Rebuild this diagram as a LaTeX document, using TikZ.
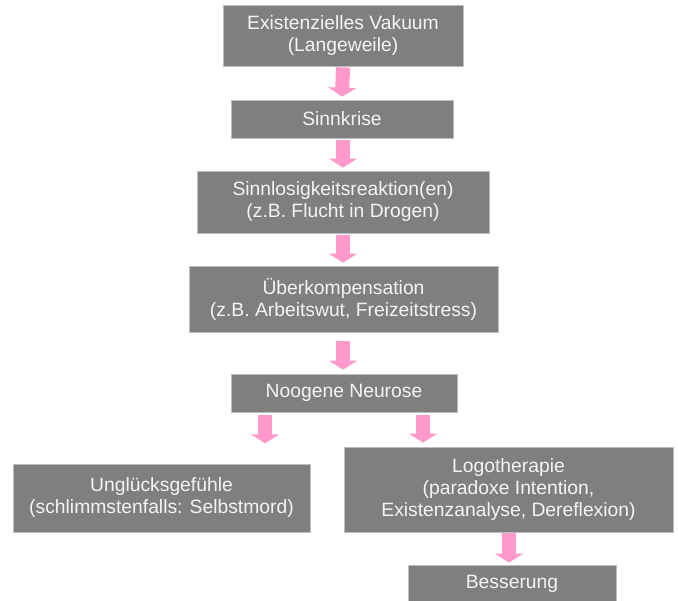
\documentclass[tikz,border=0pt]{standalone}
\usepackage{fontspec}
\setmainfont{Liberation Sans}
\usetikzlibrary{arrows.meta,calc}
\definecolor{boxgray}{HTML}{7F7F7F}
\definecolor{boxedge}{HTML}{BDBDBD}
\definecolor{txt}{HTML}{F4F4F4}
\definecolor{pinkarrow}{HTML}{FF99CC}
\begin{document}
\begin{tikzpicture}[x=1pt,y=-1pt,
  box/.style={rectangle, fill=boxgray, draw=boxedge, line width=0.7pt, inner sep=0pt,
    text=txt, align=center, font=\fontsize{19.3}{22}\selectfont},
  parrow/.style={draw=pinkarrow, line width=14pt, -{Triangle[width=28pt,length=9pt,fill=pinkarrow]}}
]
\useasboundingbox (0,0) rectangle (678,601);
\clip (0,0) rectangle (678,601);
\fill[white] (0,0) rectangle (678,601);

\node[box, minimum width=240pt, minimum height=61pt] (n1) at (343,35.5) {Existenzielles Vakuum\\(Langeweile)};
\node[box, minimum width=222pt, minimum height=38pt] (n2) at (342,119) {Sinnkrise};
\node[box, minimum width=292pt, minimum height=62pt] (n3) at (343,202) {Sinnlosigkeitsreaktion(en)\\(z.B. Flucht in Drogen)};
\node[box, minimum width=309pt, minimum height=66pt] (n4) at (343.5,299) {Überkompensation\\(z.B. Arbeitswut, Freizeitstress)};
\node[box, minimum width=226pt, minimum height=38pt] (n5) at (344,393) {Noogene Neurose};
\node[box, minimum width=297pt, minimum height=68pt] (n6) at (161.5,498) {Unglücksgefühle\\(schlimmstenfalls: Selbstmord)};
\node[box, minimum width=329pt, minimum height=85pt] (n7) at (508.5,489.5) {Logotherapie\\(paradoxe Intention,\\Existenzanalyse, Dereflexion)};
\node[box, minimum width=208pt, minimum height=38pt] (n8) at (512,584) {Besserung};

\draw[parrow] ($(n1.south)+(0,1)$) -- ($(n2.north)+(0,-3)$);
\draw[parrow] ($(n2.south)+(1,2)$) -- ($(n3.north)+(0,-3)$);
\draw[parrow] ($(n3.south)+(0,2)$) -- ($(n4.north)+(-0.5,-3)$);
\draw[parrow] ($(n4.south)+(-0.5,9)$) -- ($(n5.north)+(-1,-4)$);
\draw[parrow] ($(n5.south)+(-79,3)$) -- ($(n5.south)+(-79,31)$);
\draw[parrow] ($(n5.south)+(79,3)$) -- ($(n7.north)+(-85.5,-4)$);
\draw[parrow] ($(n7.south)+(0.5,1)$) -- ($(n8.north)+(-3,-2)$);
\end{tikzpicture}
\end{document}
